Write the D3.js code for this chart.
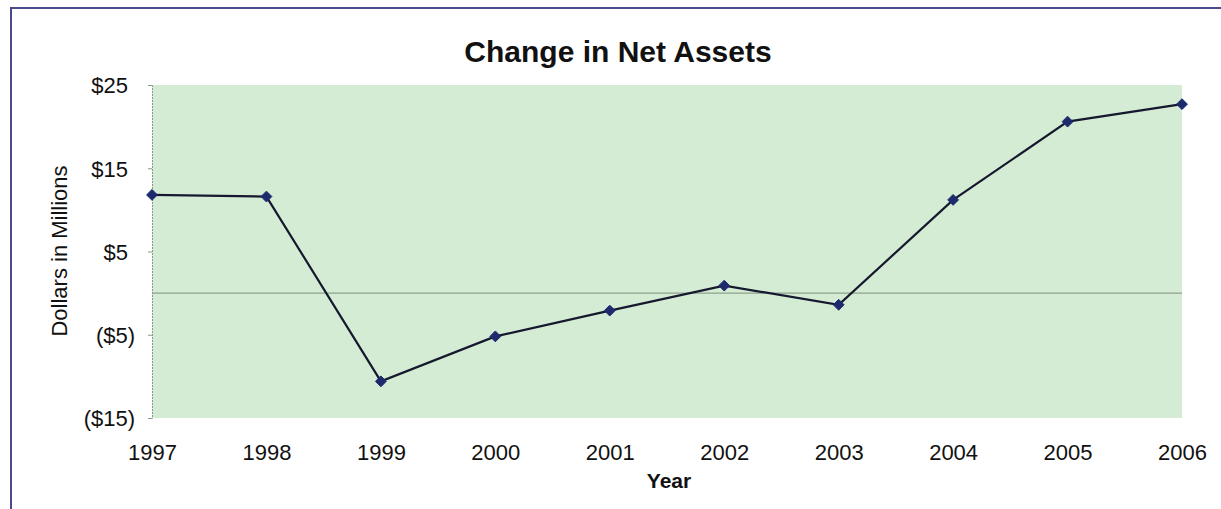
<!DOCTYPE html>
<html>
  <head>
    <title>Change in Net Assets</title>
    <script src="https://cdn.jsdelivr.net/npm/d3@7"></script>
    <style>
      body { margin: 0; background: #fff; }
      text { font-family: "Liberation Sans", Arial, sans-serif; fill: #111; }
    </style>
  </head>
  <body>
    <script>
      // data
      const years = ["1997", "1998", "1999", "2000", "2001", "2002", "2003", "2004", "2005", "2006"];
      const netChange = [11.8, 11.6, -10.6, -5.2, -2.1, 0.9, -1.4, 11.2, 20.6, 22.7];
      const yTicks = [25, 15, 5, -5, -15];

      const w = 1221;
      const h = 509;

      const svg = d3.select("body").append("svg")
        .attr("width", w)
        .attr("height", h);

      // outer frame (runs off the right and bottom edges)
      svg.append("rect")
        .attr("x", 11).attr("y", 8)
        .attr("width", w + 20).attr("height", h + 20)
        .attr("fill", "none")
        .attr("stroke", "#4b4b8c")
        .attr("stroke-width", 2);

      const plotLeft = 152, plotRight = 1182, plotTop = 85, plotBottom = 418;

      const x = d3.scalePoint().domain(years).range([plotLeft, plotRight]);
      const y = d3.scaleLinear().domain([-15, 25]).range([plotBottom, plotTop]);

      // plot area
      svg.append("rect")
        .attr("x", plotLeft).attr("y", plotTop)
        .attr("width", plotRight - plotLeft).attr("height", plotBottom - plotTop)
        .attr("fill", "#d4ecd3");

      // zero line
      svg.append("line")
        .attr("x1", plotLeft).attr("x2", plotRight)
        .attr("y1", y(0)).attr("y2", y(0))
        .attr("stroke", "#8ea08e")
        .attr("stroke-width", 1.2);

      // y axis
      const yAxis = svg.append("g")
        .attr("transform", `translate(${plotLeft},0)`)
        .call(d3.axisLeft(y).tickValues(yTicks).tickSize(4).tickFormat(function (d) {
          return d < 0 ? `($${-d})` : `$${d}`;
        }));
      yAxis.select(".domain").attr("stroke", "#8a9a8a").attr("stroke-dasharray", "2,1");
      yAxis.selectAll(".tick line").attr("stroke", "#8a9a8a");
      yAxis.selectAll(".tick text")
        .attr("font-size", 22)
        .attr("font-family", "Liberation Sans, Arial, sans-serif")
        .attr("fill", "#111")
        .attr("x", function (d) { return d < 0 ? -17 : -24; })
        .attr("dy", "0.36em");

      // x axis (labels only)
      const xAxis = svg.append("g")
        .attr("transform", `translate(0,${plotBottom})`)
        .call(d3.axisBottom(x).tickSize(0));
      xAxis.select(".domain").remove();
      xAxis.selectAll(".tick text")
        .attr("font-size", 22)
        .attr("font-family", "Liberation Sans, Arial, sans-serif")
        .attr("fill", "#111")
        .attr("y", 26)
        .attr("dy", "0.71em");

      // line
      const line = d3.line()
        .x(function (d, i) { return x(years[i]); })
        .y(function (d) { return y(d); });

      svg.append("path")
        .datum(netChange)
        .attr("d", line)
        .attr("fill", "none")
        .attr("stroke", "#15182e")
        .attr("stroke-width", 2.2);

      // diamond markers
      svg.selectAll(".marker")
        .data(netChange)
        .enter()
        .append("path")
        .attr("class", "marker")
        .attr("d", d3.symbol().type(d3.symbolDiamond2).size(75))
        .attr("transform", function (d, i) {
          return `translate(${x(years[i])},${y(d)})`;
        })
        .attr("fill", "#1d2a6e")
        .attr("stroke", "#1d2a6e")
        .attr("stroke-width", 1);

      // titles
      svg.append("text")
        .attr("x", 618).attr("y", 62)
        .attr("text-anchor", "middle")
        .attr("font-size", 30)
        .attr("font-weight", "bold")
        .text("Change in Net Assets");

      svg.append("text")
        .attr("x", 669).attr("y", 488)
        .attr("text-anchor", "middle")
        .attr("font-size", 21)
        .attr("font-weight", "bold")
        .text("Year");

      svg.append("text")
        .attr("transform", "translate(67,251) rotate(-90)")
        .attr("text-anchor", "middle")
        .attr("font-size", 22)
        .text("Dollars in Millions");
    </script>
  </body>
</html>
